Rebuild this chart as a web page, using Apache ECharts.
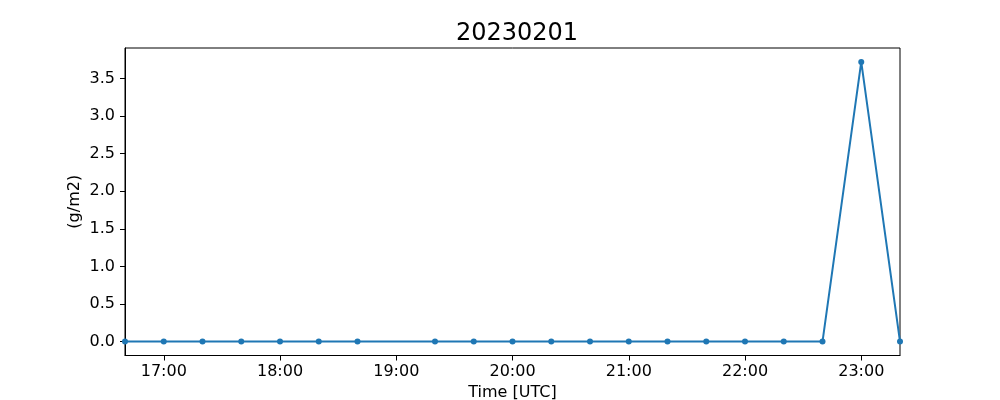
<!DOCTYPE html>
<html>
<head>
<meta charset="utf-8">
<script src="https://cdn.jsdelivr.net/npm/echarts@6/dist/echarts.min.js"></script>
<style>html,body{margin:0;padding:0;background:#fff}#c{width:1000px;height:400px}</style>
</head>
<body>
<div id="c"></div>
<script>
const titleText = '20230201';
const times = ['16:40','17:00','17:20','17:40','18:00','18:20','18:40','19:20','19:40','20:00','20:20','20:40','21:00','21:20','21:40','22:00','22:20','22:40','23:00','23:20'];
const values = [0,0,0,0,0,0,0,0,0,0,0,0,0,0,0,0,0,0,3.72,0];
const xTickLabels = ['17:00','18:00','19:00','20:00','21:00','22:00','23:00'];
const yTicks = [0,0.5,1.0,1.5,2.0,2.5,3.0,3.5];

const toMin = s => { const p = s.split(':'); return (+p[0]) * 60 + (+p[1]); };
const fmt = m => String(Math.floor(m / 60)).padStart(2, '0') + ':' + String(Math.round(m % 60)).padStart(2, '0');
const data = times.map((t, i) => [toMin(t), values[i]]);
const xTicks = xTickLabels.map(toMin);
const font = 'DejaVu Sans';

const chart = echarts.init(document.getElementById('c'), null, {renderer: 'canvas'});
chart.setOption({
  animation: false,
  backgroundColor: '#fff',
  textStyle: {fontFamily: font},
  title: {
    text: titleText, left: 512, textAlign: 'center', top: 17,
    textStyle: {fontFamily: font, fontSize: 24, fontWeight: 'normal', color: '#000'}
  },
  grid: {left: 125, right: 100, top: 48, bottom: 44.5, show: true, borderColor: '#000', borderWidth: 1, containLabel: false, outerBoundsMode: 'none'},
  xAxis: {
    type: 'value', min: toMin('16:40'), max: toMin('23:20'),
    name: 'Time [UTC]', nameLocation: 'middle', nameGap: 29, nameMoveOverlap: false,
    nameTextStyle: {fontFamily: font, fontSize: 16, color: '#000'},
    axisLine: {show: true, onZero: false, lineStyle: {color: '#000', width: 1}},
    axisTick: {show: true, length: 5, lineStyle: {color: '#000'}, customValues: xTicks},
    axisLabel: {fontFamily: font, fontSize: 16, color: '#000', margin: 8, customValues: xTicks, formatter: v => fmt(v)},
    splitLine: {show: false}
  },
  yAxis: {
    type: 'value', min: -0.186, max: 3.906,
    name: '(g/m2)', nameLocation: 'middle', nameGap: 42, nameRotate: 90, nameMoveOverlap: false,
    nameTextStyle: {fontFamily: font, fontSize: 16, color: '#000'},
    axisLine: {show: true, onZero: false, lineStyle: {color: '#000', width: 1}},
    axisTick: {show: true, length: 5, lineStyle: {color: '#000'}, customValues: yTicks},
    axisLabel: {fontFamily: font, fontSize: 16, color: '#000', margin: 10, customValues: yTicks, formatter: v => v.toFixed(1)},
    splitLine: {show: false}
  },
  series: [{
    type: 'line', data: data,
    symbol: 'circle', symbolSize: 6, showSymbol: true,
    lineStyle: {color: '#1f77b4', width: 2},
    itemStyle: {color: '#1f77b4'},
    clip: true
  }]
});
</script>
</body>
</html>
